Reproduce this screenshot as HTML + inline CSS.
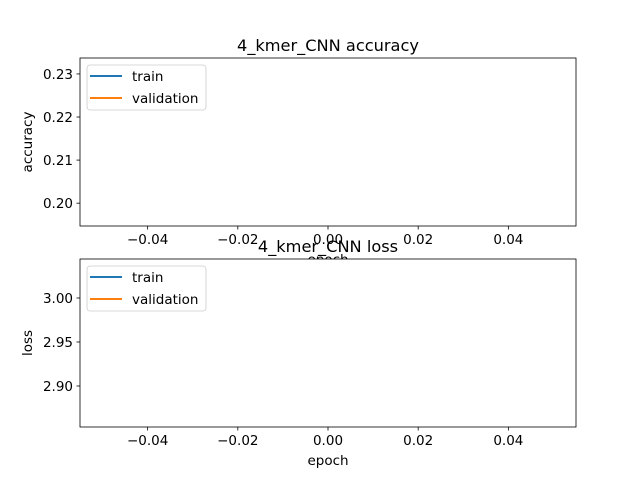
<!DOCTYPE html>
<html><head><meta charset="utf-8"><style>
html,body{margin:0;padding:0;background:#fff;}
svg{display:block;font-family:"DejaVu Sans","Liberation Sans",sans-serif;}
</style></head><body>
<svg id="c" width="640" height="480" xmlns="http://www.w3.org/2000/svg"></svg>
<script>
const epochs=[0];
const accTrain=[0.2142];
const accVal=[0.2142];
const lossTrain=[2.9489];
const lossVal=[2.9489];
const xTicks=[-0.04,-0.02,0.00,0.02,0.04];
const accTicks=[0.20,0.21,0.22,0.23];
const lossTicks=[2.90,2.95,3.00];
const legendLabels=["train","validation"];
const colors=["#1f77b4","#ff7f0e"];

const svg=document.getElementById('c');
const NS="http://www.w3.org/2000/svg";
function mk(tag,attrs,parent){const e=document.createElementNS(NS,tag);for(const k in attrs)e.setAttribute(k,attrs[k]);(parent||svg).appendChild(e);return e;}
function txt(s,attrs,parent){const e=mk('text',attrs,parent);e.textContent=s;return e;}

const L=80,R=576,xmin=-0.055,xmax=0.055;
const xs=v=>L+(v-xmin)/(xmax-xmin)*(R-L);

function panel(name,top,bot,ymin,ymax,yticks,dec,title,ylabel,trainD,valD){
  const g=mk('g',{});
  
  
  const ys=v=>bot-(v-ymin)/(ymax-ymin)*(bot-top);
  const bg=mk('rect',{x:L,y:top,width:R-L,height:bot-top,fill:'#fff'},g);
  
  [trainD,valD].forEach((d,i)=>{
    const pts=epochs.map((e,j)=>xs(e)+','+ys(d[j])).join(' ');
    const pl=mk('polyline',{points:pts,fill:'none',stroke:colors[i],'stroke-width':1.5},g);
    
    
  });
  const fr=mk('rect',{x:L,y:top,width:R-L,height:bot-top,fill:'none',stroke:'#000','stroke-width':0.8},g);
  
  xTicks.forEach(t=>{
    const x=xs(t);
    mk('line',{x1:x,y1:bot,x2:x,y2:bot+3.5,stroke:'#000','stroke-width':0.8},g);
    const tl=txt((t<0?'\u2212':'')+Math.abs(t).toFixed(2),{x:x,y:bot+18,'font-size':13.5,'text-anchor':'middle'},g);
    
  });
  yticks.forEach(t=>{
    const y=ys(t);
    mk('line',{x1:L,y1:y,x2:L-3.5,y2:y,stroke:'#000','stroke-width':0.8},g);
    const tl=txt(t.toFixed(dec),{x:L-7,y:y+5,'font-size':13.5,'text-anchor':'end'},g);
    
  });
  const xl=txt('epoch',{x:(L+R)/2,y:bot+38,'font-size':13.5,'text-anchor':'middle'},g);
  
  const yl=txt(ylabel,{x:0,y:0,'font-size':13.5,'text-anchor':'middle',transform:`translate(32,${(top+bot)/2}) rotate(-90)`},g);
  
  const tt=txt(title,{x:(L+R)/2,y:top-7,'font-size':16.2,'text-anchor':'middle'},g);
  
  const lg=mk('g',{},g);
  
  mk('rect',{x:87,y:top+7,width:119,height:45,rx:3,fill:'#fff',stroke:'#ccc','stroke-width':0.8},lg);
  legendLabels.forEach((lab,i)=>{
    const y=top+18+i*22;
    const ln=mk('line',{x1:90,y1:y,x2:122,y2:y,stroke:colors[i],'stroke-width':2},lg);
    
    txt(lab,{x:132,y:y+5,'font-size':13.5},lg);
  });
}
panel('accuracy',58,226,0.1947,0.2337,accTicks,2,'4_kmer_CNN accuracy','accuracy',accTrain,accVal);
panel('loss',259,427,2.8534,3.0443,lossTicks,2,'4_kmer_CNN loss','loss',lossTrain,lossVal);
</script>
</body></html>
